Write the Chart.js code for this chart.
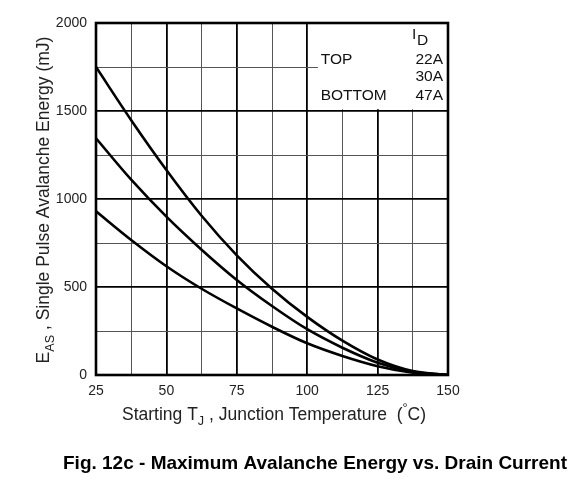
<!DOCTYPE html>
<html>
<head>
<meta charset="utf-8">
<script src="https://cdn.jsdelivr.net/npm/chart.js@4.4.0/dist/chart.umd.min.js"></script>
<style>
  html, body { margin: 0; padding: 0; background: #fff; }
  #wrap { width: 587px; height: 493px; }
</style>
</head>
<body>
<div id="wrap"><canvas id="myChart" width="587" height="493"></canvas></div>
<script>
// starting junction temperature (°C)
const tempC = [25, 37.5, 50, 62.5, 75, 87.5, 100, 112.5, 125, 137.5, 150];
// single pulse avalanche energy (mJ) per drain current
const eas22A = [1750, 1448, 1165, 905, 680, 490, 330, 195, 88, 22, 0];
const eas30A = [1345, 1110, 900, 712, 540, 392, 260, 155, 70, 18, 0];
const eas47A = [930, 767, 618, 490, 378, 274, 180, 108, 50, 13, 0];
const currents = ['22A', '30A', '47A'];
const xTicks = [25, 50, 75, 100, 125, 150];
const yTicks = [0, 500, 1000, 1500, 2000];

const FONT = '"Liberation Sans", Arial, sans-serif';
const ctx = document.getElementById('myChart').getContext('2d');

function toPoints(ys) {
    return tempC.map((t, i) => ({ x: t, y: ys[i] }));
}

// draw a run of text pieces, some of them subscript / superscript
function drawRich(c, parts, x, y, size) {
    let w = 0;
    parts.forEach(p => {
        c.font = (p.sub || p.sup ? size * 0.72 : size) + 'px ' + FONT;
        p.w = c.measureText(p.t).width;
        w += p.w;
    });
    let cx = x - w / 2;
    parts.forEach(p => {
        c.font = (p.sub || p.sup ? size * 0.72 : size) + 'px ' + FONT;
        let dy = p.sub ? size * 0.3 : (p.sup ? -size * 0.45 : 0);
        c.fillText(p.t, cx, y + dy);
        cx += p.w;
    });
}

const decorations = {
    id: 'decorations',
    beforeDatasetsDraw(chart) {
        const { ctx: c, scales: { x, y } } = chart;
        // white legend panel in the top right corner
        const left = x.getPixelForValue(103.8);
        const bottom = y.getPixelForValue(1510);
        c.save();
        c.fillStyle = '#fff';
        c.fillRect(left, y.top, x.right - left, bottom - y.top);
        c.restore();
    },
    afterDatasetsDraw(chart) {
        const { ctx: c, chartArea: a, scales: { x, y } } = chart;
        c.save();
        c.strokeStyle = '#000';
        c.lineWidth = 2.6;
        c.strokeRect(a.left, a.top, a.right - a.left, a.bottom - a.top);

        // legend text
        c.fillStyle = '#111';
        c.textBaseline = 'alphabetic';
        const lx = x.getPixelForValue(104.8);
        const rx = a.right - 5;
        c.font = '15.5px ' + FONT;
        c.textAlign = 'left';
        c.fillText('I', rx - 31, a.top + 16);
        c.fillText('D', rx - 26, a.top + 22);
        c.fillText('TOP', lx, a.top + 41);
        c.fillText('BOTTOM', lx, a.top + 77);
        c.textAlign = 'right';
        c.fillText(currents[0], rx, a.top + 41);
        c.fillText(currents[1], rx, a.top + 58);
        c.fillText(currents[2], rx, a.top + 77);

        // axis titles
        c.textAlign = 'left';
        c.fillStyle = '#222';
        drawRich(c, [
            { t: 'Starting T' }, { t: 'J', sub: true },
            { t: ' , Junction Temperature  (' }, { t: '°', sup: true }, { t: 'C)' }
        ], 274, 420, 17.5);

        c.save();
        c.translate(49, 200);
        c.rotate(-Math.PI / 2);
        drawRich(c, [
            { t: 'E' }, { t: 'AS', sub: true },
            { t: ' , Single Pulse Avalanche Energy (mJ)' }
        ], 0, 0, 17.5);
        c.restore();

        // figure caption
        c.fillStyle = '#000';
        c.textAlign = 'center';
        c.font = 'bold 19px ' + FONT;
        c.fillText('Fig. 12c - Maximum Avalanche Energy vs. Drain Current', 315, 469);
        c.restore();
    }
};

const lineStyle = {
    borderColor: '#000',
    borderWidth: 2.6,
    pointRadius: 0,
    fill: false,
    cubicInterpolationMode: 'monotone'
};

new Chart(ctx, {
    type: 'line',
    data: {
        datasets: [
            { label: currents[0], data: toPoints(eas22A), ...lineStyle },
            { label: currents[1], data: toPoints(eas30A), ...lineStyle },
            { label: currents[2], data: toPoints(eas47A), ...lineStyle }
        ]
    },
    options: {
        responsive: false,
        animation: false,
        devicePixelRatio: 1,
        layout: { padding: { left: 0, top: 23, right: 139, bottom: 0 } },
        plugins: {
            legend: { display: false },
            tooltip: { enabled: false }
        },
        scales: {
            x: {
                type: 'linear',
                min: 25,
                max: 150,
                afterFit: s => { s.height = 118; },
                afterBuildTicks: s => {
                    s.ticks = tempC.map(v => ({ value: v }));
                },
                border: { display: false },
                grid: {
                    drawTicks: false,
                    color: c => (c.tick && c.tick.value % 25 === 0) ? '#000' : '#555',
                    lineWidth: c => (c.tick && c.tick.value % 25 === 0) ? 1.8 : 1
                },
                ticks: {
                    autoSkip: false,
                    maxRotation: 0,
                    padding: 8,
                    color: '#222',
                    font: { family: FONT, size: 14 },
                    callback: v => xTicks.includes(v) ? String(v) : ''
                }
            },
            y: {
                min: 0,
                max: 2000,
                afterFit: s => { s.width = 96; },
                border: { display: false },
                grid: {
                    drawTicks: false,
                    color: c => (c.tick && c.tick.value % 500 === 0) ? '#000' : '#555',
                    lineWidth: c => (c.tick && c.tick.value % 500 === 0) ? 1.8 : 1
                },
                ticks: {
                    stepSize: 250,
                    padding: 9,
                    color: '#222',
                    font: { family: FONT, size: 14 },
                    callback: v => yTicks.includes(v) ? String(v) : ''
                }
            }
        }
    },
    plugins: [decorations]
});
</script>
</body>
</html>
